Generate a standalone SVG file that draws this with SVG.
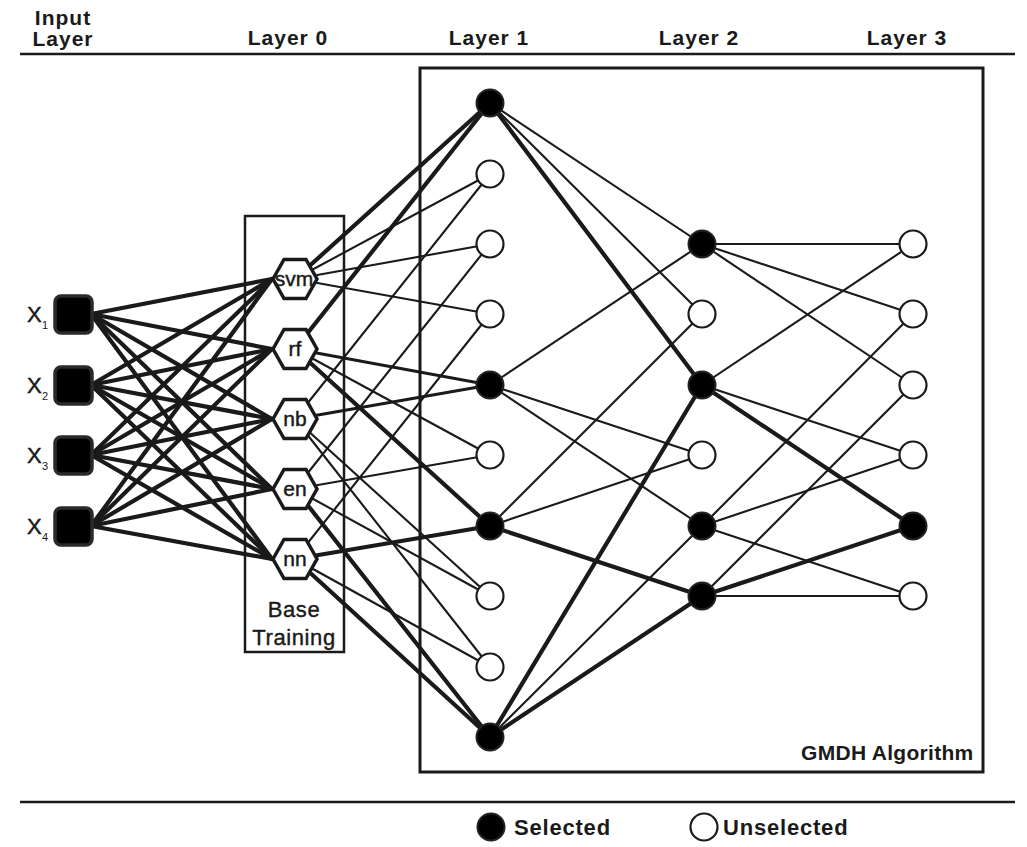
<svg xmlns="http://www.w3.org/2000/svg" width="1027" height="847" viewBox="0 0 1027 847">
<style>
.hd{font-family:"Liberation Sans",Arial,sans-serif;font-weight:bold;font-size:21px;letter-spacing:1px;fill:#1a1a1a;text-anchor:middle}
.lg{font-family:"Liberation Sans",Arial,sans-serif;font-weight:bold;font-size:22px;letter-spacing:0.8px;fill:#1a1a1a}
.hx{font-family:"Liberation Sans",Arial,sans-serif;font-size:21px;fill:#1a1a1a;stroke:#1a1a1a;stroke-width:0.45px;text-anchor:middle}
.bt{font-family:"Liberation Sans",Arial,sans-serif;font-size:22px;letter-spacing:0.6px;fill:#1a1a1a;stroke:#1a1a1a;stroke-width:0.4px;text-anchor:middle}
.xl{font-family:"Liberation Sans",Arial,sans-serif;font-size:22px;fill:#1a1a1a;stroke:#1a1a1a;stroke-width:0.45px}
.xs{font-family:"Liberation Sans",Arial,sans-serif;font-size:11px;fill:#1a1a1a}
.tk{stroke:#1a1a1a;stroke-width:4.2;fill:none;stroke-linecap:round}
.tn{stroke:#1a1a1a;stroke-width:2.1;fill:none}
.md{stroke:#1a1a1a;stroke-width:2.8;fill:none}
.sel{fill:#000;stroke:#222;stroke-width:2}
.uns{fill:#fff;stroke:#1a1a1a;stroke-width:2.2}
.hexs{fill:#fff;stroke:#1a1a1a;stroke-width:3.5;stroke-linejoin:miter}
.frame{fill:none;stroke:#1a1a1a}
</style>
<defs>
<polygon id="hex" points="-22,0 -11,-19.5 11,-19.5 22,0 11,19.5 -11,19.5"/>
</defs>
<rect x="0" y="0" width="1027" height="847" fill="#fff"/>

<g id="headers">
<text class="hd" x="63" y="25">Input</text>
<text class="hd" x="63" y="46">Layer</text>
<text class="hd" x="288" y="45">Layer 0</text>
<text class="hd" x="489" y="45">Layer 1</text>
<text class="hd" x="699" y="45">Layer 2</text>
<text class="hd" x="907" y="45">Layer 3</text>
<line x1="20" y1="54" x2="1015" y2="54" stroke="#1a1a1a" stroke-width="2.5"/>
<line x1="20" y1="802" x2="1015" y2="802" stroke="#1a1a1a" stroke-width="2.5"/>
</g>

<g id="frames">
<rect id="base-training" class="frame" x="245" y="216" width="99" height="436" stroke-width="2.5"/>
<text class="bt" x="294" y="617">Base</text>
<text class="bt" x="294" y="645">Training</text>
<rect id="gmdh" class="frame" x="420" y="68" width="563" height="704" stroke-width="3"/>
<text class="lg" x="801" y="760" style="font-size:21px;letter-spacing:0.3px">GMDH Algorithm</text>
</g>

<g id="connectors">
<!-- input to layer 0 -->
<g class="tk">
<line x1="91" y1="314" x2="272" y2="279"/><line x1="91" y1="314" x2="272" y2="349"/><line x1="91" y1="314" x2="272" y2="419"/><line x1="91" y1="314" x2="272" y2="489"/><line x1="91" y1="314" x2="272" y2="559"/>
<line x1="91" y1="385" x2="272" y2="279"/><line x1="91" y1="385" x2="272" y2="349"/><line x1="91" y1="385" x2="272" y2="419"/><line x1="91" y1="385" x2="272" y2="489"/><line x1="91" y1="385" x2="272" y2="559"/>
<line x1="91" y1="455" x2="272" y2="279"/><line x1="91" y1="455" x2="272" y2="349"/><line x1="91" y1="455" x2="272" y2="419"/><line x1="91" y1="455" x2="272" y2="489"/><line x1="91" y1="455" x2="272" y2="559"/>
<line x1="91" y1="526" x2="272" y2="279"/><line x1="91" y1="526" x2="272" y2="349"/><line x1="91" y1="526" x2="272" y2="419"/><line x1="91" y1="526" x2="272" y2="489"/><line x1="91" y1="526" x2="272" y2="559"/>
</g>
<!-- layer 0 to layer 1 -->
<g class="tk">
<line x1="295" y1="279" x2="490" y2="103"/><line x1="295" y1="349" x2="490" y2="103"/>
<line x1="295" y1="349" x2="490" y2="526"/><line x1="295" y1="559" x2="490" y2="526"/>
<line x1="295" y1="489" x2="490" y2="737"/><line x1="295" y1="559" x2="490" y2="737"/>
</g>
<g class="md">
<line x1="295" y1="349" x2="490" y2="385"/><line x1="295" y1="419" x2="490" y2="385"/>
</g>
<g class="tn">
<line x1="295" y1="279" x2="490" y2="174"/><line x1="295" y1="419" x2="490" y2="174"/>
<line x1="295" y1="279" x2="490" y2="244"/><line x1="295" y1="489" x2="490" y2="244"/>
<line x1="295" y1="279" x2="490" y2="314"/><line x1="295" y1="559" x2="490" y2="314"/>
<line x1="295" y1="349" x2="490" y2="455"/><line x1="295" y1="489" x2="490" y2="455"/>
<line x1="295" y1="419" x2="490" y2="596"/><line x1="295" y1="489" x2="490" y2="596"/>
<line x1="295" y1="419" x2="490" y2="667"/><line x1="295" y1="559" x2="490" y2="667"/>
</g>
<!-- layer 1 to layer 2 -->
<g class="tk">
<line x1="490" y1="103" x2="702" y2="385"/><line x1="490" y1="737" x2="702" y2="385"/>
<line x1="490" y1="526" x2="702" y2="596"/><line x1="490" y1="737" x2="702" y2="596"/>
</g>
<g class="tn">
<line x1="490" y1="103" x2="702" y2="244"/><line x1="490" y1="385" x2="702" y2="244"/>
<line x1="490" y1="103" x2="702" y2="314"/><line x1="490" y1="526" x2="702" y2="314"/>
<line x1="490" y1="385" x2="702" y2="455"/><line x1="490" y1="526" x2="702" y2="455"/>
<line x1="490" y1="385" x2="702" y2="526"/><line x1="490" y1="737" x2="702" y2="526"/>
</g>
<!-- layer 2 to layer 3 -->
<g class="tk">
<line x1="702" y1="385" x2="913" y2="526"/><line x1="702" y1="596" x2="913" y2="526"/>
</g>
<g class="tn">
<line x1="702" y1="244" x2="913" y2="244"/><line x1="702" y1="385" x2="913" y2="244"/>
<line x1="702" y1="244" x2="913" y2="314"/><line x1="702" y1="526" x2="913" y2="314"/>
<line x1="702" y1="244" x2="913" y2="385"/><line x1="702" y1="596" x2="913" y2="385"/>
<line x1="702" y1="385" x2="913" y2="455"/><line x1="702" y1="526" x2="913" y2="455"/>
<line x1="702" y1="526" x2="913" y2="596"/><line x1="702" y1="596" x2="913" y2="596"/>
</g>
</g>

<g id="input-nodes">
<g id="x1"><rect x="55" y="296" width="37" height="37" rx="6" fill="#000" stroke="#2a2a2a" stroke-width="3.5"/><text class="xl" x="27" y="322">X</text><text class="xs" x="42" y="329">1</text></g>
<g id="x2"><rect x="55" y="367" width="37" height="37" rx="6" fill="#000" stroke="#2a2a2a" stroke-width="3.5"/><text class="xl" x="27" y="393">X</text><text class="xs" x="42" y="400">2</text></g>
<g id="x3"><rect x="55" y="437" width="37" height="37" rx="6" fill="#000" stroke="#2a2a2a" stroke-width="3.5"/><text class="xl" x="27" y="463">X</text><text class="xs" x="42" y="470">3</text></g>
<g id="x4"><rect x="55" y="508" width="37" height="37" rx="6" fill="#000" stroke="#2a2a2a" stroke-width="3.5"/><text class="xl" x="27" y="534">X</text><text class="xs" x="42" y="541">4</text></g>
</g>

<g id="layer0">
<g id="svm"><use href="#hex" class="hexs" x="295" y="279"/><text class="hx" x="294" y="286">svm</text></g>
<g id="rf"><use href="#hex" class="hexs" x="295" y="349"/><text class="hx" x="295" y="356">rf</text></g>
<g id="nb"><use href="#hex" class="hexs" x="295" y="419"/><text class="hx" x="295" y="426">nb</text></g>
<g id="en"><use href="#hex" class="hexs" x="295" y="489"/><text class="hx" x="295" y="496">en</text></g>
<g id="nn"><use href="#hex" class="hexs" x="295" y="559"/><text class="hx" x="295" y="566">nn</text></g>
</g>

<g id="layer1">
<circle id="l1-0" class="sel" cx="490" cy="103" r="13.5"/>
<circle id="l1-1" class="uns" cx="490" cy="174" r="13.5"/>
<circle id="l1-2" class="uns" cx="490" cy="244" r="13.5"/>
<circle id="l1-3" class="uns" cx="490" cy="314" r="13.5"/>
<circle id="l1-4" class="sel" cx="490" cy="385" r="13.5"/>
<circle id="l1-5" class="uns" cx="490" cy="455" r="13.5"/>
<circle id="l1-6" class="sel" cx="490" cy="526" r="13.5"/>
<circle id="l1-7" class="uns" cx="490" cy="596" r="13.5"/>
<circle id="l1-8" class="uns" cx="490" cy="667" r="13.5"/>
<circle id="l1-9" class="sel" cx="490" cy="737" r="13.5"/>
</g>

<g id="layer2">
<circle id="l2-0" class="sel" cx="702" cy="244" r="13.5"/>
<circle id="l2-1" class="uns" cx="702" cy="314" r="13.5"/>
<circle id="l2-2" class="sel" cx="702" cy="385" r="13.5"/>
<circle id="l2-3" class="uns" cx="702" cy="455" r="13.5"/>
<circle id="l2-4" class="sel" cx="702" cy="526" r="13.5"/>
<circle id="l2-5" class="sel" cx="702" cy="596" r="13.5"/>
</g>

<g id="layer3">
<circle id="l3-0" class="uns" cx="913" cy="244" r="13.5"/>
<circle id="l3-1" class="uns" cx="913" cy="314" r="13.5"/>
<circle id="l3-2" class="uns" cx="913" cy="385" r="13.5"/>
<circle id="l3-3" class="uns" cx="913" cy="455" r="13.5"/>
<circle id="l3-4" class="sel" cx="913" cy="526" r="13.5"/>
<circle id="l3-5" class="uns" cx="913" cy="596" r="13.5"/>
</g>

<g id="legend">
<circle class="sel" cx="491" cy="827" r="13.5"/>
<text class="lg" x="514" y="835">Selected</text>
<circle class="uns" cx="704" cy="827" r="13.5"/>
<text class="lg" x="723" y="835">Unselected</text>
</g>
</svg>
